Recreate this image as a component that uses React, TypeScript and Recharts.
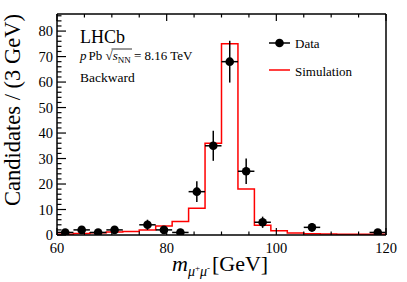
import React from 'react';
import { ComposedChart, Line, Scatter, ErrorBar, XAxis, YAxis } from 'recharts';

// Simulation histogram: 3 GeV bins from 60 to 120 GeV
const binEdges = [60, 63, 66, 69, 72, 75, 78, 81, 84, 87, 90, 93, 96, 99, 102, 105, 108, 111, 114, 117, 120];
const simulation = [0.3, 0.6, 0.9, 1.2, 1.4, 2.0, 3.5, 5.3, 10.5, 36, 75, 18, 3.8, 1.7, 0.8, 0.5, 0.4, 0.3, 0.3, 0.3];

// Data points (bin centres with non-zero content)
const dataMass = [61.5, 64.5, 67.5, 70.5, 76.5, 79.5, 82.5, 85.5, 88.5, 91.5, 94.5, 97.5, 106.5, 118.5];
const dataCounts = [1, 2, 1, 2, 4, 2, 1, 17, 35, 68, 25, 5, 3, 1];
const dataErrors = [1, 1.4, 1, 1.4, 2, 1.4, 1, 4.1, 5.9, 8.2, 5, 2.2, 1.7, 1];
const binHalfWidth = 1.5;

// Axis ticks
const xMajor = [60, 80, 100, 120];
const xTicks = [60, 65, 70, 75, 80, 85, 90, 95, 100, 105, 110, 115, 120];
const yMajor = [0, 10, 20, 30, 40, 50, 60, 70, 80];
const yTicks = Array.from({ length: 44 }, (_, i) => i * 2);

const legendItems = [
  { label: 'Data', kind: 'marker' },
  { label: 'Simulation', kind: 'line' },
];

const simRows = binEdges.map((x, i) => ({ x, y: simulation[Math.min(i, simulation.length - 1)] }));
const pointRows = dataMass.map((x, i) => ({ x, y: dataCounts[i], ex: binHalfWidth, ey: dataErrors[i] }));

const FONT = '"Liberation Serif", "Times New Roman", serif';

const BottomTick = (p: any) => {
  const major = xMajor.includes(p.payload.value);
  return (
    <g>
      <line x1={p.x} x2={p.x} y1={p.y} y2={p.y - (major ? 7 : 3.5)} stroke="#000" strokeWidth={1.2} />
      {major && (
        <text x={p.x} y={p.y + 17.5} textAnchor="middle" fontSize={14.5} fontFamily={FONT} fill="#000">
          {p.payload.value}
        </text>
      )}
    </g>
  );
};

const TopTick = (p: any) => {
  const major = xMajor.includes(p.payload.value);
  return <line x1={p.x} x2={p.x} y1={p.y} y2={p.y + (major ? 7 : 3.5)} stroke="#000" strokeWidth={1.2} />;
};

const LeftTick = (p: any) => {
  const major = yMajor.includes(p.payload.value);
  return (
    <g>
      <line x1={p.x} x2={p.x + (major ? 9 : 4.5)} y1={p.y} y2={p.y} stroke="#000" strokeWidth={1.2} />
      {major && (
        <text x={p.x - 4} y={p.y + 5} textAnchor="end" fontSize={14.5} fontFamily={FONT} fill="#000">
          {p.payload.value}
        </text>
      )}
    </g>
  );
};

const RightTick = (p: any) => {
  const major = yMajor.includes(p.payload.value);
  return <line x1={p.x} x2={p.x - (major ? 9 : 4.5)} y1={p.y} y2={p.y} stroke="#000" strokeWidth={1.2} />;
};

const Dot = (p: any) => <circle cx={p.cx} cy={p.cy} r={4.3} fill="#000" />;

const App: React.FC = () => {
  const axisLine = { stroke: '#000', strokeWidth: 1.5 };
  return (
    <div style={{ position: 'absolute', left: 0, top: 0, width: 407, height: 282, background: '#fff' }}>
      <ComposedChart width={407} height={282} data={simRows} margin={{ top: 4, right: 11, bottom: 17, left: 17 }}>
        <XAxis dataKey="x" type="number" domain={[60, 120]} ticks={xTicks} interval={0} height={30}
          tickSize={0} tickMargin={0} axisLine={axisLine} tick={BottomTick} allowDataOverflow />
        <XAxis xAxisId="top" orientation="top" dataKey="x" type="number" domain={[60, 120]} ticks={xTicks}
          interval={0} height={10} tickSize={0} tickMargin={0} axisLine={axisLine} tick={TopTick} />
        <YAxis dataKey="y" type="number" domain={[0, 86.7]} ticks={yTicks} interval={0} width={40}
          tickSize={0} tickMargin={0} axisLine={axisLine} tick={LeftTick} allowDataOverflow />
        <YAxis yAxisId="right" orientation="right" type="number" domain={[0, 86.7]} ticks={yTicks}
          interval={0} width={10} tickSize={0} tickMargin={0} axisLine={axisLine} tick={RightTick} />
        <Line type="stepAfter" dataKey="y" stroke="#ff0000" strokeWidth={1.5} dot={false} isAnimationActive={false} />
        <Scatter data={pointRows} dataKey="y" shape={Dot} isAnimationActive={false}>
          <ErrorBar dataKey="ey" direction="y" width={0} stroke="#000" strokeWidth={1.5} />
          <ErrorBar dataKey="ex" direction="x" width={0} stroke="#000" strokeWidth={1.5} />
        </Scatter>
      </ComposedChart>

      <svg width={407} height={282} style={{ position: 'absolute', left: 0, top: 0, pointerEvents: 'none' }}
        fontFamily={FONT} fill="#000">
        <text x={80} y={43} fontSize={18}>LHCb</text>
        <text x={80} y={60} fontSize={13}>
          <tspan fontStyle="italic">p</tspan>
          <tspan dx={2}>Pb </tspan>
          <tspan>√</tspan>
          <tspan fontStyle="italic">s</tspan>
          <tspan fontSize={9} dy={3}>NN</tspan>
          <tspan dy={-3}> = 8.16 TeV</tspan>
        </text>
        <line x1={111.5} x2={132} y1={49} y2={49} stroke="#000" strokeWidth={0.8} />
        <text x={80} y={82} fontSize={13.5}>Backward</text>

        <text x={20} y={110} fontSize={22.5} textAnchor="middle" transform="rotate(-90 20 110)">
          Candidates / (3 GeV)
        </text>
        <text x={172} y={271} fontSize={22}>
          <tspan fontStyle="italic">m</tspan>
          <tspan fontSize={14} fontStyle="italic" dy={4.5}>μ</tspan>
          <tspan fontSize={9} dy={-5}>+</tspan>
          <tspan fontSize={14} fontStyle="italic" dy={5}>μ</tspan>
          <tspan fontSize={9} dy={-5}>-</tspan>
          <tspan x={212} dy={0.5}>[GeV]</tspan>
        </text>

        {legendItems.map((item, i) => {
          const cy = 43 + i * 28;
          return (
            <g key={item.label}>
              {item.kind === 'marker' ? (
                <g>
                  <line x1={269} x2={290} y1={cy} y2={cy} stroke="#000" strokeWidth={1.5} />
                  <circle cx={279.5} cy={cy} r={4.3} fill="#000" />
                </g>
              ) : (
                <line x1={269} x2={290} y1={cy - 1} y2={cy - 1} stroke="#ff0000" strokeWidth={1.5} />
              )}
              <text x={295} y={cy + 4.5} fontSize={13}>{item.label}</text>
            </g>
          );
        })}
      </svg>
    </div>
  );
};

export default App;
